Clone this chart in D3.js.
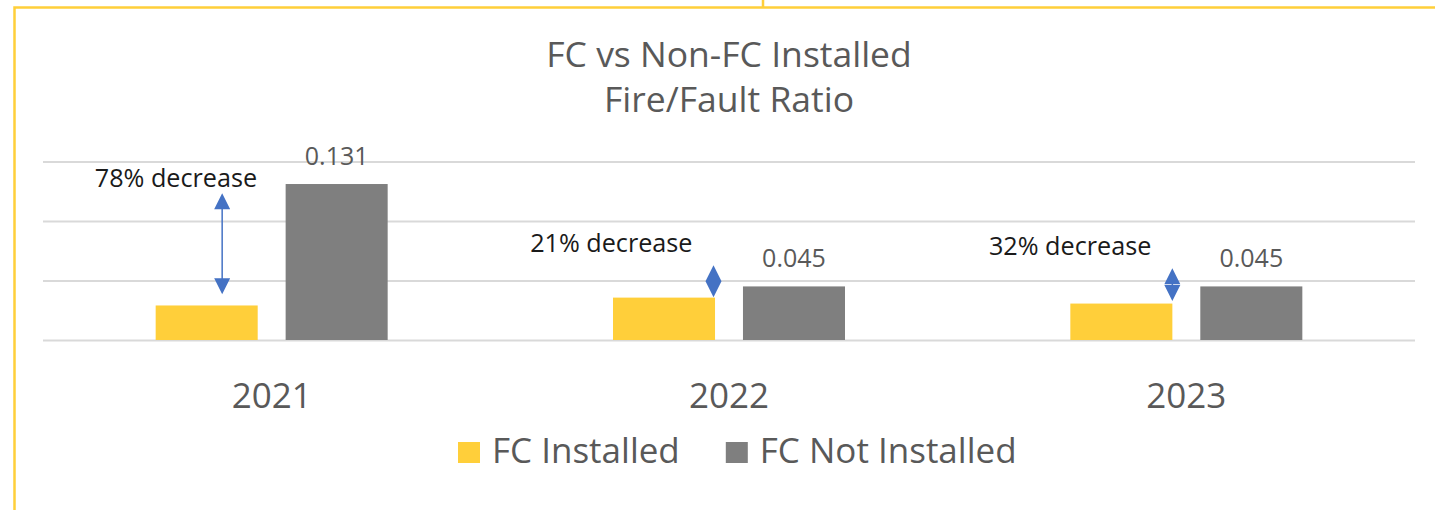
<!DOCTYPE html>
<html>
<head>
<meta charset="utf-8">
<script src="https://cdn.jsdelivr.net/npm/d3@7"></script>
<style>
  body { margin: 0; background: #fff; }
  text { font-family: "Open Sans", "Noto Sans", sans-serif; }
</style>
</head>
<body>
<div id="chart"></div>
<script>

// data
const years = ["2021", "2022", "2023"];
const series = ["FC Installed", "FC Not Installed"];
const fcInstalled = [0.029, 0.0356, 0.0306];
const fcNotInstalled = [0.131, 0.045, 0.045];
const decreaseLabels = ["78% decrease", "21% decrease", "32% decrease"];
// ends of the blue double arrows, in ratio units
const arrowTop = [0.1232, 0.0628, 0.0603];
const arrowBottom = [0.0385, 0.036, 0.0327];
const yTicks = [0, 0.05, 0.1, 0.15];

// where each hand-placed annotation sits relative to its year (pixels)
const annotLayout = [
    { arrowDx: -49.5, textDx: 35, textDy: -6 },
    { arrowDx: -15.5, textDx: -21, textDy: -13 },
    { arrowDx: -14, textDx: -21, textDy: -13 }
];

const colors = ["#FFCF3A", "#7F7F7F"];
const W = 1435, H = 510;
const plotLeft = 43, plotRight = 1415, plotBase = 340, plotTop = 161.4;

let svg = d3.select("#chart")
    .append("svg")
    .attr("width", W)
    .attr("height", H);

// outline of the surrounding box
svg.append("path")
    .attr("d", "M14.5," + H + " V7.5 H" + W + " M763,0 V7.5")
    .attr("fill", "none")
    .attr("stroke", "#FFCF3A")
    .attr("stroke-width", 2.5);

let x0 = d3.scaleBand()
    .domain(years)
    .range([plotLeft, plotRight])
    .padding(0);

let bw = x0.bandwidth();
let x1 = d3.scaleBand()
    .domain(series)
    .range([bw / 2 - 116, bw / 2 + 116])
    .paddingInner(0.215)
    .paddingOuter(0);

let y = d3.scaleLinear()
    .domain([0, 0.15])
    .range([plotBase, plotTop]);

// gridlines
let grid = svg.append("g")
    .attr("transform", "translate(" + plotLeft + ",0)")
    .call(d3.axisLeft(y).tickValues(yTicks).tickSize(-(plotRight - plotLeft)).tickFormat(""));
grid.select(".domain").remove();
grid.selectAll("line").attr("stroke", "#D9D9D9").attr("stroke-width", 2);

// title
let title = svg.append("text")
    .attr("x", (plotLeft + plotRight) / 2)
    .attr("text-anchor", "middle")
    .attr("fill", "#595959")
    .style("font-size", "35.5px");
title.append("tspan").attr("x", (plotLeft + plotRight) / 2).attr("y", 67).text("FC vs Non-FC Installed");
title.append("tspan").attr("x", (plotLeft + plotRight) / 2).attr("y", 112).text("Fire/Fault Ratio");

let rows = years.map((yr, i) => ({ year: yr, values: [fcInstalled[i], fcNotInstalled[i]] }));

let groups = svg.selectAll(".yr")
    .data(rows)
    .enter()
    .append("g")
    .attr("class", "yr")
    .attr("transform", d => "translate(" + x0(d.year) + ",0)");

groups.selectAll("rect")
    .data(d => d.values.map((v, j) => ({ key: series[j], value: v, j: j })))
    .enter()
    .append("rect")
    .attr("x", d => x1(d.key))
    .attr("width", x1.bandwidth())
    .attr("y", d => y(d.value))
    .attr("height", d => y(0) - y(d.value))
    .attr("fill", d => colors[d.j]);

// value labels on the grey bars
groups.append("text")
    .attr("x", x1("FC Not Installed") + x1.bandwidth() / 2)
    .attr("y", (d, i) => y(fcNotInstalled[i]) - 19)
    .attr("text-anchor", "middle")
    .attr("fill", "#595959")
    .style("font-size", "25px")
    .text((d, i) => d3.format(".3f")(fcNotInstalled[i]));

// x axis labels
let xa = svg.append("g")
    .attr("transform", "translate(0," + plotBase + ")")
    .call(d3.axisBottom(x0).tickSize(0).tickPadding(0));
xa.select(".domain").remove();
xa.selectAll("text")
    .attr("y", 68)
    .attr("dy", 0)
    .attr("fill", "#595959")
    .style("font-size", "35px")
    .style("font-family", "'Open Sans', 'Noto Sans', sans-serif");

// blue double arrows + notes
let headW = 8, headL = 16;
years.forEach((yr, i) => {
    let ax = x0(yr) + bw / 2 + annotLayout[i].arrowDx;
    let yt = y(arrowTop[i]), yb = y(arrowBottom[i]);
    let a = svg.append("g").attr("fill", "#4472C4").attr("stroke", "#4472C4");

    if (yb - yt > 2 * headL) {
        a.append("line")
            .attr("x1", ax).attr("x2", ax)
            .attr("y1", yt + headL - 1).attr("y2", yb - headL + 1)
            .attr("stroke-width", 1.5);
    }
    a.append("path")
        .attr("stroke", "none")
        .attr("d", ["M", ax, yt, "L", ax - headW, yt + headL, "L", ax + headW, yt + headL, "Z",
                    "M", ax, yb, "L", ax - headW, yb - headL, "L", ax + headW, yb - headL, "Z"].join(" "));

    svg.append("text")
        .attr("x", ax + annotLayout[i].textDx)
        .attr("y", yt + annotLayout[i].textDy)
        .attr("text-anchor", "end")
        .attr("fill", "#1a1a1a")
        .style("font-size", "25.2px")
        .text(decreaseLabels[i]);
});

// legend
let legend = svg.append("g").attr("transform", "translate(458,0)");
let lx = 0;
series.forEach((s, j) => {
    legend.append("rect")
        .attr("x", lx).attr("y", 442)
        .attr("width", 22).attr("height", 21)
        .attr("fill", colors[j]);
    let t = legend.append("text")
        .attr("x", lx + 34).attr("y", 463)
        .attr("fill", "#595959")
        .style("font-size", "35px")
        .text(s);
    lx += 34 + t.node().getComputedTextLength() + 46;
});

</script>
</body>
</html>
